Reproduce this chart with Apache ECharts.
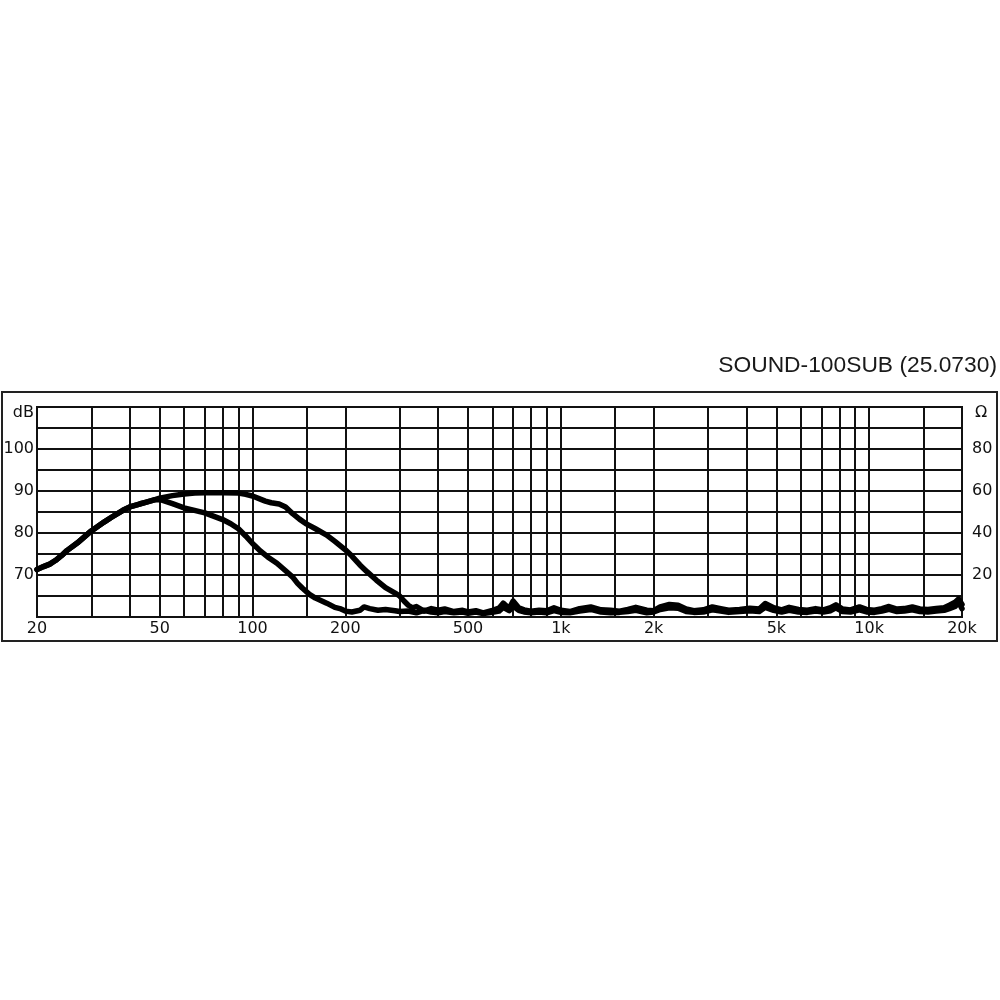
<!DOCTYPE html>
<html>
<head>
<meta charset="utf-8">
<script src="https://cdn.jsdelivr.net/npm/echarts@6/dist/echarts.min.js"></script>
<style>
html,body{margin:0;padding:0;background:#fff;}
#chart{width:1000px;height:1000px;}
</style>
</head>
<body>
<div id="chart"></div>
<script>
// ---- Data ----
const titleText = 'SOUND-100SUB (25.0730)';

// Frequency grid lines (Hz)
const gridFreqs = [20,30,40,50,60,70,80,90,100,150,200,300,400,500,600,700,800,900,1000,1500,2000,3000,4000,5000,6000,7000,8000,9000,10000,15000,20000];
// Frequency tick labels
const xLabelValues = [20,50,100,200,500,1000,2000,5000,10000,20000];
const xLabelTexts  = ['20','50','100','200','500','1k','2k','5k','10k','20k'];
// Left (dB) labels
const dbLabelValues = [70,80,90,100];
// Right (Ohm) labels
const ohmLabelValues = [20,40,60,80];

// Curve A (upper, wide response)
const freqA = [20,21,22,23,24,25,27,30,33,35,38,40,43,45,48,
  50,55,60,65,70,80,90,95,100,105,110,115,122,128,135,142,150,160,174,185,200,210,223,235,252,270,290,300,310,320,330,
  340,360,380,400,420,450,480,500,530,560,600,630,650,680,700,730,760,800,850,900,950,1000,1070,1150,1250,1350,1450,1550,1650,1750,1900,2000,2100,2250,2400,2550,2700,2900,3100,3300,3500,3800,4100,4400,4600,4900,5200,5500,5900,6300,6700,7100,7500,7800,8200,8700,9300,9800,10400,11000,11600,12300,13000,13800,14600,15500,16500,17500,18200,19000,19500,20000];
const dbA = [71.3,72.0,72.6,73.5,74.6,75.8,77.6,80.5,82.6,83.8,85.4,86.2,86.9,87.3,87.9,
  88.3,88.9,89.3,89.5,89.6,89.6,89.5,89.2,88.8,88.2,87.6,87.2,86.9,86.2,84.6,83.3,82.1,81.0,79.5,78.0,76.0,74.5,72.4,70.8,68.8,67.0,65.7,65.0,63.8,62.8,62.2,
  62.5,61.4,62.0,61.6,61.9,61.3,61.6,61.2,61.5,61.0,61.6,62.1,63.3,62.0,63.8,62.2,61.7,61.4,61.6,61.5,62.2,61.6,61.3,62.0,62.4,61.7,61.6,61.4,61.8,62.3,61.6,61.5,62.4,63.0,62.8,61.9,61.5,61.7,62.4,62.0,61.6,61.8,62.1,61.9,63.2,62.2,61.7,62.3,61.8,61.6,62.0,61.7,62.2,62.9,61.9,61.7,62.4,61.8,61.6,62.0,62.5,61.9,62.0,62.4,61.9,61.8,62.0,62.2,62.8,63.5,64.3,63.0];

// Curve B (lower, narrow response)
const freqB = [20,21,22,23,24,25,27,30,33,35,38,40,43,45,48,
  50,55,60,70,80,85,90,95,100,105,112,120,128,135,140,145,153,160,174,185,192,200,210,223,230,240,255,270,290,300,
  320,340,360,380,400,420,450,480,500,530,560,600,630,650,680,700,730,760,800,850,900,950,1000,1070,1150,1250,1350,1450,1550,1650,1750,1900,2000,2100,2250,2400,2550,2700,2900,3100,3300,3500,3800,4100,4400,4600,4900,5200,5500,5900,6300,6700,7100,7500,7800,8200,8700,9300,9800,10400,11000,11600,12300,13000,13800,14600,15500,16500,17500,18200,19000,19500,20000];
const dbB = [71.3,72.0,72.6,73.5,74.6,75.8,77.6,80.5,82.6,83.8,85.4,86.2,86.9,87.3,87.9,
  88.0,87.0,86.0,84.8,83.2,82.2,81.0,79.3,77.5,76.0,74.3,72.8,71.0,69.5,68.0,66.9,65.4,64.5,63.3,62.3,62.0,61.4,61.2,61.6,62.4,62.0,61.6,61.8,61.5,61.3,
  61.4,61.0,61.6,61.2,61.0,61.3,61.0,61.2,60.9,61.2,60.8,61.1,61.4,62.3,61.5,62.6,61.6,61.2,61.0,61.2,61.0,61.5,61.1,61.0,61.4,61.8,61.2,61.0,61.1,61.3,61.6,61.0,61.2,61.8,62.2,62.1,61.3,61.1,61.2,61.7,61.4,61.1,61.3,61.5,61.3,62.3,61.6,61.2,61.6,61.2,61.1,61.4,61.2,61.5,62.2,61.3,61.2,61.7,61.2,61.1,61.4,61.8,61.3,61.4,61.7,61.3,61.2,61.4,61.6,62.0,62.5,63.5,62.0];

// ---- Chart ----
const zip = (xs, ys) => xs.map((x, i) => [x, ys[i]]);
const LINE = '#111';
const chart = echarts.init(document.getElementById('chart'), null, {renderer: 'canvas'});
const labelFont = {color: '#111', fontFamily: 'DejaVu Sans', fontSize: 16};

chart.setOption({
  animation: false,
  backgroundColor: '#fff',
  graphic: [
    {type: 'rect', shape: {x: 2, y: 392, width: 995, height: 249},
     style: {fill: 'none', stroke: '#222', lineWidth: 2}, silent: true},
    {type: 'text', x: 997, y: 366,
     style: {text: titleText, fill: '#1a1a1a', font: '22.8px "Liberation Sans", Arial, sans-serif',
             textAlign: 'right', textVerticalAlign: 'middle'}, silent: true}
  ],
  grid: {left: 37, right: 38, top: 407, bottom: 383, show: true,
         borderColor: LINE, borderWidth: 2, backgroundColor: 'transparent'},
  xAxis: {
    type: 'log', logBase: 10, min: 20, max: 20000,
    axisLine: {show: false},
    axisTick: {show: false},
    splitLine: {show: false},
    minorSplitLine: {show: false},
    axisLabel: Object.assign({
      customValues: xLabelValues,
      formatter: v => { const i = xLabelValues.findIndex(x => Math.abs(x - v) < 1e-6 * x + 0.5); return i >= 0 ? xLabelTexts[i] : ''; },
      margin: 4, showMinLabel: true, showMaxLabel: true, hideOverlap: false
    }, labelFont)
  },
  yAxis: [
    {
      type: 'value', min: 60, max: 110, interval: 5,
      axisLine: {show: false}, axisTick: {show: false},
      splitLine: {show: true, lineStyle: {color: LINE, width: 2}},
      axisLabel: Object.assign({
        formatter: v => v === 110 ? '{top|dB}' : (dbLabelValues.includes(v) ? String(v) : ''),
        margin: 3,
        rich: {top: {color: '#111', fontFamily: 'DejaVu Sans', fontSize: 16, padding: [12, 0, 0, 0]}}
      }, labelFont)
    },
    {
      type: 'value', min: 0, max: 100, interval: 20, position: 'right',
      axisLine: {show: false}, axisTick: {show: false}, splitLine: {show: false},
      axisLabel: Object.assign({
        formatter: v => v === 100 ? '{top|Ω}' : (ohmLabelValues.includes(v) ? String(v) : ''),
        margin: 10,
        rich: {top: {color: '#111', fontFamily: 'DejaVu Sans', fontSize: 16, padding: [12, 0, 0, 3]}}
      }, labelFont)
    }
  ],
  series: [
    {
      type: 'line', name: 'grid', data: [], silent: true,
      markLine: {
        silent: true, symbol: ['none', 'none'], animation: false,
        label: {show: false},
        lineStyle: {color: LINE, width: 2, type: 'solid'},
        emphasis: {disabled: true},
        data: gridFreqs.map(f => ({xAxis: f}))
      }
    },
    {
      type: 'line', name: 'A', data: zip(freqA, dbA), yAxisIndex: 0,
      showSymbol: false, symbol: 'none', smooth: false, silent: true, z: 5,
      lineStyle: {color: '#000', width: 5.5, join: 'round', cap: 'round'}
    },
    {
      type: 'line', name: 'B', data: zip(freqB, dbB), yAxisIndex: 0,
      showSymbol: false, symbol: 'none', smooth: false, silent: true, z: 5,
      lineStyle: {color: '#000', width: 5.5, join: 'round', cap: 'round'}
    }
  ]
});
</script>
</body>
</html>
